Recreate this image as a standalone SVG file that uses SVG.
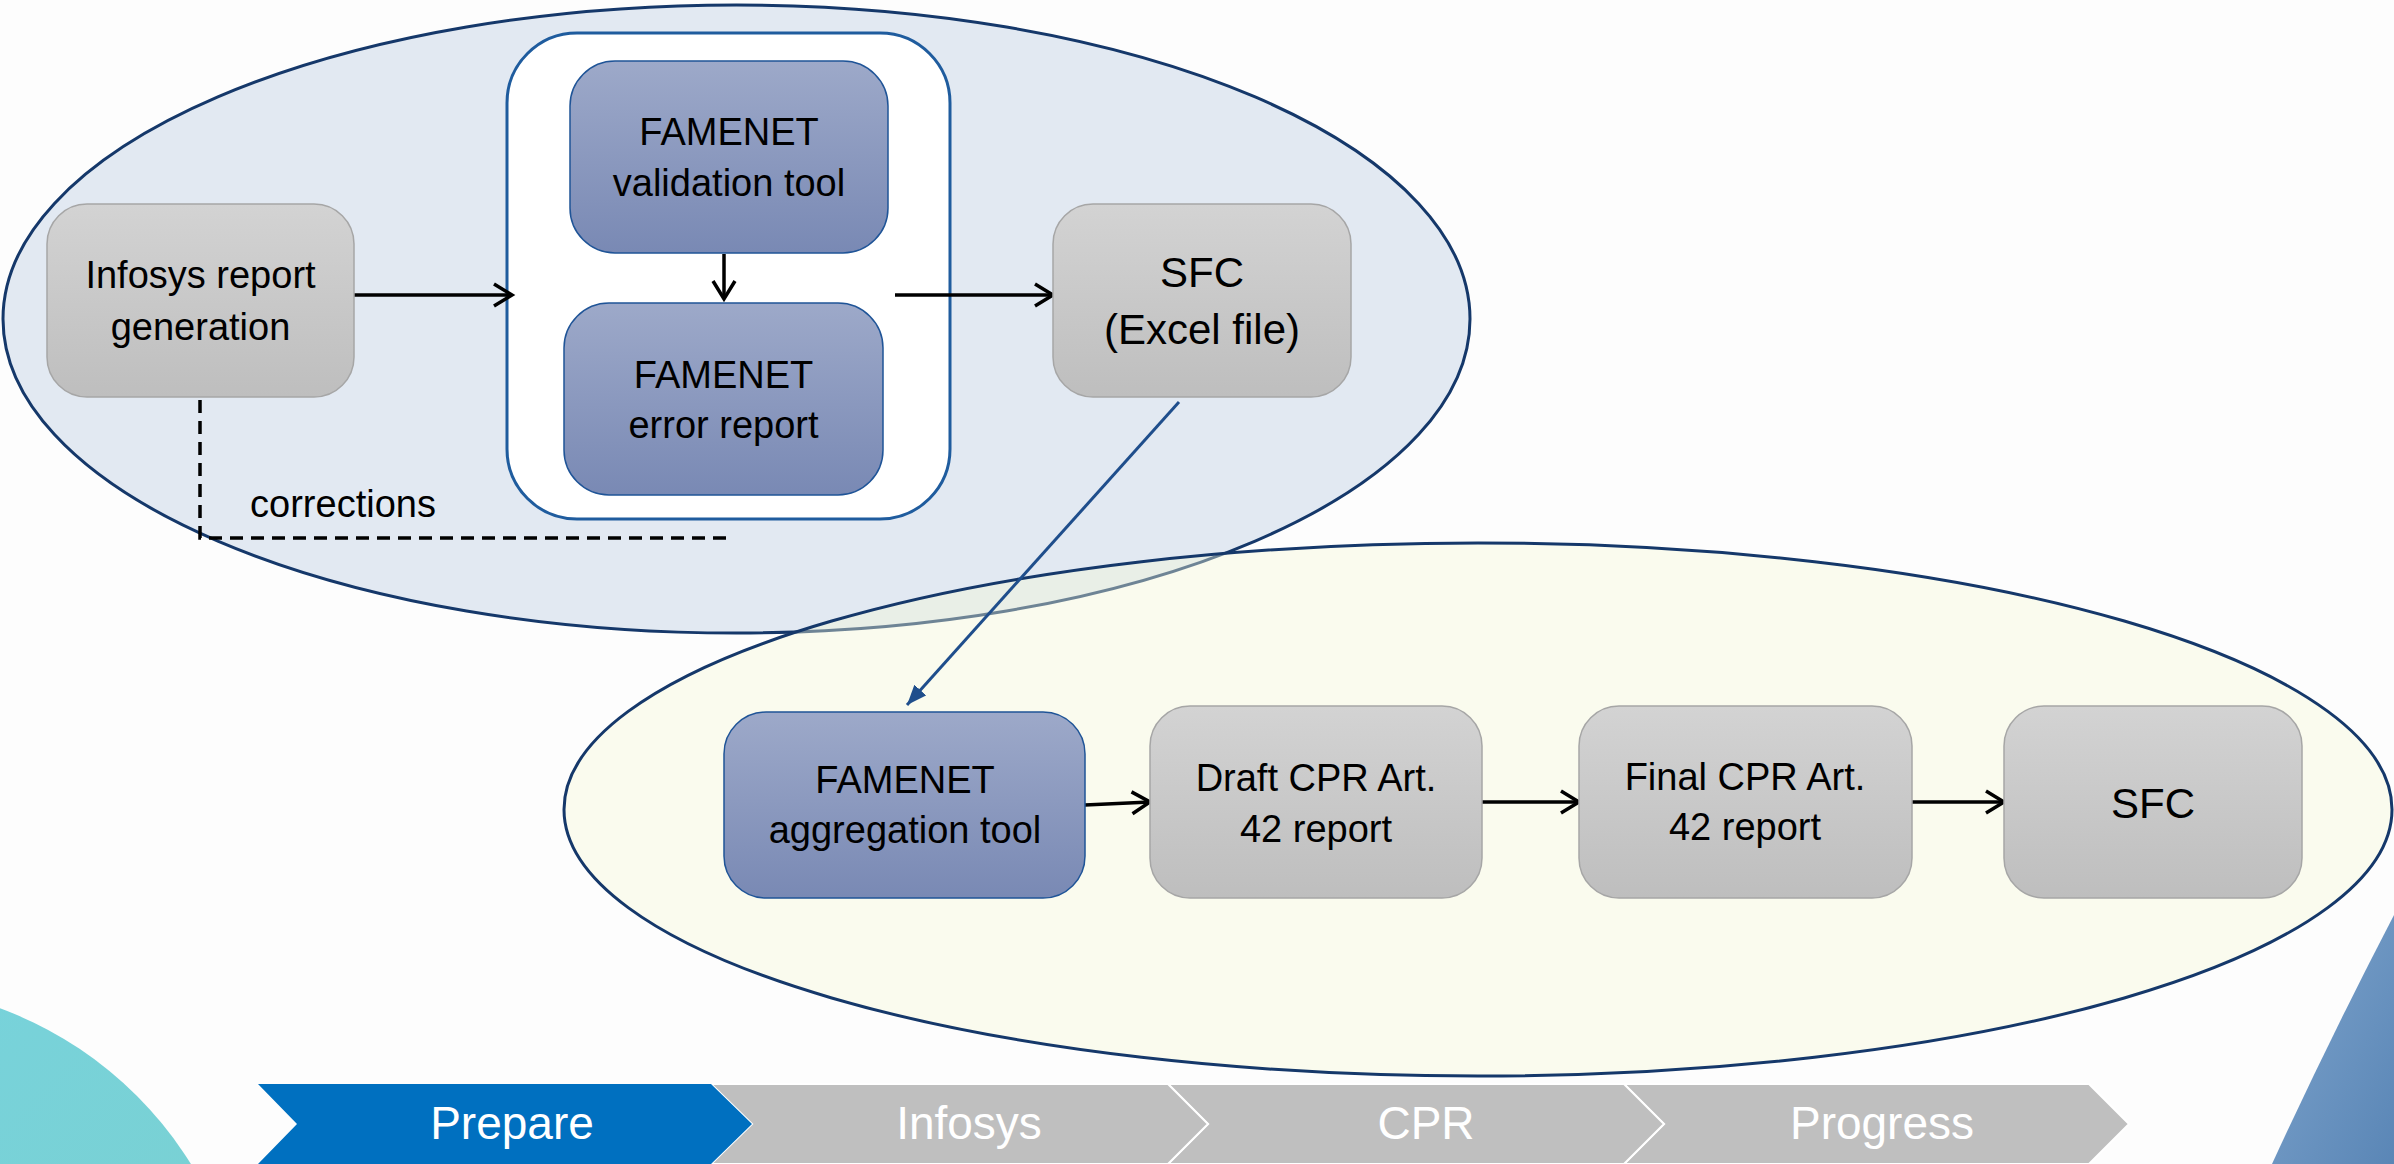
<svg xmlns="http://www.w3.org/2000/svg" width="2394" height="1164" viewBox="0 0 2394 1164">
<style>
.t{font-family:"Liberation Sans",Arial,sans-serif;fill:#000;text-anchor:middle}
.n{font-size:38px}
.b{font-size:42px}
.c{font-family:"Liberation Sans",Arial,sans-serif;fill:#fff;text-anchor:middle;font-size:46px}
.gray{fill:url(#gGray);stroke:#A6A6A6;stroke-width:1.5}
.blue{fill:url(#gBlue);stroke:#1F5497;stroke-width:1.5}
.k{fill:none;stroke:#000;stroke-width:3.5}
</style>
<defs>
<linearGradient id="gGray" x1="0" y1="0" x2="0" y2="1"><stop offset="0" stop-color="#D3D3D3"/><stop offset="1" stop-color="#BEBEBE"/></linearGradient>
<linearGradient id="gBlue" x1="0" y1="0" x2="0" y2="1"><stop offset="0" stop-color="#9DA9C9"/><stop offset="1" stop-color="#7989B4"/></linearGradient>
<linearGradient id="gTeal" x1="0" y1="0" x2="1" y2="1"><stop offset="0" stop-color="#76D4E2"/><stop offset="0.6" stop-color="#79D1D4"/><stop offset="1" stop-color="#8FCFA6"/></linearGradient>
<linearGradient id="gRight" x1="0" y1="0" x2="1" y2="1"><stop offset="0" stop-color="#7EA4CC"/><stop offset="1" stop-color="#5A86B6"/></linearGradient>
<marker id="open" markerUnits="userSpaceOnUse" markerWidth="26" markerHeight="30" refX="21" refY="13" orient="auto" viewBox="0 0 26 30">
<path d="M3,2 L21,13 L3,24" fill="none" stroke="#000" stroke-width="3.5"/>
</marker>
<marker id="fill" markerUnits="userSpaceOnUse" markerWidth="24" markerHeight="20" refX="20" refY="8" orient="auto" viewBox="0 0 24 20">
<path d="M0,0 L20,8 L0,16 Z" fill="#1F4E8C"/>
</marker>
</defs>
<rect x="0" y="0" width="2394" height="1164" fill="#FDFDFD"/>
<g id="decor">
<circle cx="-131" cy="1364" r="379" fill="url(#gTeal)"/>
<path d="M2394,915 Q2330,1038 2272,1164 L2394,1164 Z" fill="url(#gRight)"/>
</g>
<g id="region-top">
<ellipse cx="736.5" cy="319" rx="733.5" ry="314" fill="#E2E9F2" stroke="#15386A" stroke-width="3"/>
</g>
<g id="region-bottom">
<ellipse cx="1478" cy="809.5" rx="914" ry="266.5" fill="#F4F7D6" fill-opacity="0.4" stroke="#15386A" stroke-width="3"/>
</g>
<g id="validation-group">
<rect x="507" y="33" width="443" height="486" rx="70" fill="#FFFFFF" stroke="#1F5C9E" stroke-width="3"/>
</g>
<g id="connectors">
<line class="k" x1="354" y1="295" x2="512" y2="295" marker-end="url(#open)"/>
<line class="k" x1="724" y1="254" x2="724" y2="299" marker-end="url(#open)"/>
<line class="k" x1="895" y1="295" x2="1053" y2="295" marker-end="url(#open)"/>
<path class="k" d="M200,400 L200,538 L727,538" stroke-dasharray="13,8"/>
<line x1="1179" y1="402" x2="907" y2="705" stroke="#1F4E8C" stroke-width="3" marker-end="url(#fill)"/>
<line class="k" x1="1085" y1="805" x2="1150" y2="802" marker-end="url(#open)"/>
<line class="k" x1="1482" y1="802" x2="1579" y2="802" marker-end="url(#open)"/>
<line class="k" x1="1912" y1="802" x2="2004" y2="802" marker-end="url(#open)"/>
<text class="t n" x="343" y="517">corrections</text>
</g>
<g id="infosys">
<rect class="gray" x="47" y="204" width="307" height="193" rx="40"/>
<text class="t n" x="200.5" y="288">Infosys report</text>
<text class="t n" x="200.5" y="340">generation</text>
</g>
<g id="validation-tool">
<rect class="blue" x="570" y="61" width="318" height="192" rx="45"/>
<text class="t n" x="729" y="145">FAMENET</text>
<text class="t n" x="729" y="196">validation tool</text>
</g>
<g id="error-report">
<rect class="blue" x="564" y="303" width="319" height="192" rx="45"/>
<text class="t n" x="723.5" y="388">FAMENET</text>
<text class="t n" x="723.5" y="438">error report</text>
</g>
<g id="sfc-excel">
<rect class="gray" x="1053" y="204" width="298" height="193" rx="40"/>
<text class="t b" x="1202" y="287">SFC</text>
<text class="t b" x="1202" y="344">(Excel file)</text>
</g>
<g id="aggregation-tool">
<rect class="blue" x="724" y="712" width="361" height="186" rx="42"/>
<text class="t n" x="905" y="793">FAMENET</text>
<text class="t n" x="905" y="843">aggregation tool</text>
</g>
<g id="draft-cpr">
<rect class="gray" x="1150" y="706" width="332" height="192" rx="40"/>
<text class="t n" x="1316" y="791">Draft CPR Art.</text>
<text class="t n" x="1316" y="842">42 report</text>
</g>
<g id="final-cpr">
<rect class="gray" x="1579" y="706" width="333" height="192" rx="40"/>
<text class="t n" x="1745" y="790">Final CPR Art.</text>
<text class="t n" x="1745" y="840">42 report</text>
</g>
<g id="sfc">
<rect class="gray" x="2004" y="706" width="298" height="192" rx="40"/>
<text class="t b" x="2153" y="818">SFC</text>
</g>
<g id="phases">
<path d="M1624,1084 L2089,1084 L2129,1124 L2089,1164 L1624,1164 L1664,1124 Z" fill="#BFBFBF" stroke="#FFFFFF" stroke-width="2"/>
<path d="M1168,1084 L1624,1084 L1664,1124 L1624,1164 L1168,1164 L1208,1124 Z" fill="#BFBFBF" stroke="#FFFFFF" stroke-width="2"/>
<path d="M711,1084 L1168,1084 L1208,1124 L1168,1164 L711,1164 L752,1124 Z" fill="#BFBFBF" stroke="#FFFFFF" stroke-width="2"/>
<path d="M258,1084 L711,1084 L752,1124 L711,1164 L258,1164 L297,1124 Z" fill="#0070C0"/>
<text class="c" x="512" y="1139">Prepare</text>
<text class="c" x="969" y="1139">Infosys</text>
<text class="c" x="1426" y="1139">CPR</text>
<text class="c" x="1882" y="1139">Progress</text>
</g>
</svg>
